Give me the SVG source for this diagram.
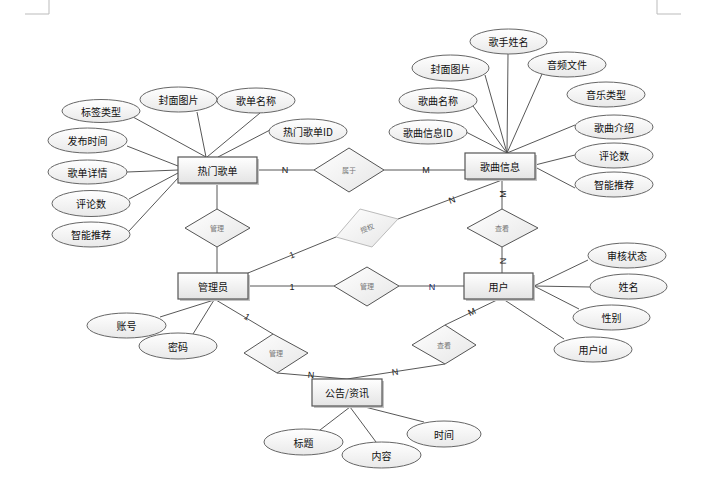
<svg xmlns="http://www.w3.org/2000/svg" width="708" height="492" viewBox="0 0 708 492">
<defs>
<linearGradient id="gr" x1="0" y1="0" x2="0" y2="1"><stop offset="0" stop-color="#ffffff"/><stop offset="1" stop-color="#e4e4e4"/></linearGradient>
<linearGradient id="ge" x1="0" y1="0" x2="0" y2="1"><stop offset="0" stop-color="#ffffff"/><stop offset="1" stop-color="#e9e9e9"/></linearGradient>
<linearGradient id="gd" x1="0" y1="0" x2="1" y2="1"><stop offset="0" stop-color="#ffffff"/><stop offset="1" stop-color="#e6e6e6"/></linearGradient>
<style>
.ent{fill:url(#gr);stroke:#555;stroke-width:1.2}
.sh{fill:#c4c4c4}
.att{fill:url(#ge);stroke:#666;stroke-width:1}
.rel{fill:url(#gd);stroke:#555;stroke-width:1}
.relg{fill:url(#gd);stroke:#bbb;stroke-width:1}
.t{font-family:"Noto Sans CJK SC","Liberation Sans",sans-serif;font-size:10px;fill:#111;text-anchor:middle;dominant-baseline:central}
.rt{font-family:"Noto Sans CJK SC","Liberation Sans",sans-serif;font-size:7px;fill:#777;text-anchor:middle;dominant-baseline:central}
.c{font-family:"Liberation Sans",sans-serif;font-size:9px;fill:#222;text-anchor:middle;dominant-baseline:central}
.cb{font-family:"Liberation Sans",sans-serif;font-size:9px;fill:#1a2a6a;text-anchor:middle;dominant-baseline:central}
.ln{stroke:#444;stroke-width:0.9;fill:none}
.mk{stroke:#bbb;stroke-width:1;fill:none}
</style>
</defs>
<rect width="708" height="492" fill="#fff"/>
<g id="corners">
<path class="mk" d="M49,0 V14 H25"/>
<path class="mk" d="M657,0 V14 H681"/>
</g>
<g id="connectors">
<line class="ln" x1="133" y1="117" x2="206" y2="157"/>
<line class="ln" x1="197" y1="112" x2="206" y2="157"/>
<line class="ln" x1="260" y1="113" x2="207" y2="157"/>
<line class="ln" x1="270" y1="130" x2="218" y2="157"/>
<line class="ln" x1="127" y1="146" x2="178" y2="166"/>
<line class="ln" x1="127" y1="172" x2="178" y2="170"/>
<line class="ln" x1="129" y1="199" x2="178" y2="173"/>
<line class="ln" x1="129" y1="231" x2="178" y2="178"/>
<line class="ln" x1="257" y1="170" x2="314" y2="170"/>
<line class="ln" x1="384" y1="170" x2="465" y2="170"/>
<line class="ln" x1="508" y1="54" x2="507" y2="153"/>
<line class="ln" x1="485" y1="75" x2="507" y2="153"/>
<line class="ln" x1="542" y1="74" x2="507" y2="153"/>
<line class="ln" x1="473" y1="106" x2="507" y2="153"/>
<line class="ln" x1="466" y1="132" x2="507" y2="153"/>
<line class="ln" x1="575" y1="125" x2="507" y2="153"/>
<line class="ln" x1="575" y1="155" x2="535" y2="165"/>
<line class="ln" x1="575" y1="188" x2="535" y2="167"/>
<line class="ln" x1="502" y1="179" x2="502" y2="209"/>
<line class="ln" x1="502" y1="247" x2="502" y2="273"/>
<line class="ln" x1="534" y1="286" x2="588" y2="260"/>
<line class="ln" x1="534" y1="286" x2="590" y2="287"/>
<line class="ln" x1="534" y1="286" x2="579" y2="309"/>
<line class="ln" x1="503" y1="299" x2="564" y2="339"/>
<line class="ln" x1="248" y1="286" x2="334" y2="286"/>
<line class="ln" x1="399" y1="286" x2="464" y2="286"/>
<line class="ln" x1="217" y1="183" x2="217" y2="209"/>
<line class="ln" x1="217" y1="247" x2="217" y2="273"/>
<line class="ln" x1="214" y1="300" x2="160" y2="317"/>
<line class="ln" x1="214" y1="300" x2="193" y2="334"/>
<line class="ln" x1="248" y1="273" x2="336" y2="237"/>
<line class="ln" x1="398" y1="219" x2="502" y2="180"/>
<line class="ln" x1="216" y1="300" x2="273" y2="334"/>
<line class="ln" x1="277" y1="373" x2="347" y2="379"/>
<line class="ln" x1="499" y1="299" x2="445" y2="325"/>
<line class="ln" x1="445" y1="364" x2="347" y2="379"/>
<line class="ln" x1="350" y1="407" x2="320" y2="430"/>
<line class="ln" x1="350" y1="407" x2="376" y2="442"/>
<line class="ln" x1="361" y1="406" x2="424" y2="422"/>
<text class="c" x="285" y="170">N</text>
<text class="c" x="426" y="170">M</text>
<text class="c" transform="translate(503,194) rotate(-90)">M</text>
<text class="c" transform="translate(503,261) rotate(-90)">N</text>
<text class="c" x="292" y="287">1</text>
<text class="cb" x="432" y="287">N</text>
<text class="c" transform="translate(292,255) rotate(-22)">1</text>
<text class="c" transform="translate(452,200) rotate(-20)">N</text>
<text class="c" transform="translate(247,317) rotate(30)">1</text>
<text class="c" transform="translate(311,375) rotate(5)">N</text>
<text class="c" transform="translate(472,312) rotate(-25)">M</text>
<text class="c" transform="translate(395,372) rotate(-8)">N</text>
</g>
<g id="e-hot">
<rect class="sh" x="180" y="159" width="79" height="26"/>
<rect class="ent" x="178" y="157" width="79" height="26"/>
<text class="t" x="217.5" y="170">热门歌单</text>
</g>
<g id="e-song">
<rect class="sh" x="467" y="155" width="70" height="26"/>
<rect class="ent" x="465" y="153" width="70" height="26"/>
<text class="t" x="500" y="166">歌曲信息</text>
</g>
<g id="e-admin">
<rect class="sh" x="180" y="275" width="70" height="26"/>
<rect class="ent" x="178" y="273" width="70" height="26"/>
<text class="t" x="213" y="286">管理员</text>
</g>
<g id="e-user">
<rect class="sh" x="466" y="275" width="69" height="26"/>
<rect class="ent" x="464" y="273" width="69" height="26"/>
<text class="t" x="498.5" y="286">用户</text>
</g>
<g id="e-notice">
<rect class="sh" x="314" y="381" width="70" height="27"/>
<rect class="ent" x="312" y="379" width="70" height="27"/>
<text class="t" x="347" y="392.5">公告/资讯</text>
</g>
<g id="a-hot-tag"><ellipse class="att" cx="101" cy="111" rx="39" ry="11.5"/><text class="t" x="101" y="111">标签类型</text></g>
<g id="a-hot-cover"><ellipse class="att" cx="178.5" cy="99.5" rx="38.5" ry="12.5"/><text class="t" x="178.5" y="99.5">封面图片</text></g>
<g id="a-hot-name"><ellipse class="att" cx="256" cy="100.5" rx="39" ry="12.5"/><text class="t" x="256" y="100.5">歌单名称</text></g>
<g id="a-hot-id"><ellipse class="att" cx="308" cy="131.5" rx="39" ry="12.5"/><text class="t" x="308" y="131.5">热门歌单ID</text></g>
<g id="a-hot-time"><ellipse class="att" cx="87.5" cy="140.5" rx="39.5" ry="12.5"/><text class="t" x="87.5" y="140.5">发布时间</text></g>
<g id="a-hot-detail"><ellipse class="att" cx="87.5" cy="172" rx="39.5" ry="12"/><text class="t" x="87.5" y="172">歌单详情</text></g>
<g id="a-hot-comments"><ellipse class="att" cx="91" cy="203.5" rx="39" ry="13"/><text class="t" x="91" y="203.5">评论数</text></g>
<g id="a-hot-rec"><ellipse class="att" cx="91" cy="234.5" rx="39" ry="12.5"/><text class="t" x="91" y="234.5">智能推荐</text></g>
<g id="a-song-singer"><ellipse class="att" cx="508.5" cy="41.5" rx="38.5" ry="12.5"/><text class="t" x="508.5" y="41.5">歌手姓名</text></g>
<g id="a-song-cover"><ellipse class="att" cx="450.5" cy="68" rx="38.5" ry="13"/><text class="t" x="450.5" y="68">封面图片</text></g>
<g id="a-song-audio"><ellipse class="att" cx="567" cy="64.5" rx="39" ry="12.5"/><text class="t" x="567" y="64.5">音频文件</text></g>
<g id="a-song-type"><ellipse class="att" cx="606" cy="94.5" rx="39" ry="12.5"/><text class="t" x="606" y="94.5">音乐类型</text></g>
<g id="a-song-name"><ellipse class="att" cx="438" cy="100.5" rx="39" ry="12.5"/><text class="t" x="438" y="100.5">歌曲名称</text></g>
<g id="a-song-id"><ellipse class="att" cx="428" cy="132" rx="39" ry="12"/><text class="t" x="428" y="132">歌曲信息ID</text></g>
<g id="a-song-intro"><ellipse class="att" cx="614" cy="127" rx="39" ry="12"/><text class="t" x="614" y="127">歌曲介绍</text></g>
<g id="a-song-comments"><ellipse class="att" cx="614" cy="155.5" rx="39" ry="12.5"/><text class="t" x="614" y="155.5">评论数</text></g>
<g id="a-song-rec"><ellipse class="att" cx="614" cy="184.5" rx="39" ry="12.5"/><text class="t" x="614" y="184.5">智能推荐</text></g>
<g id="a-user-status"><ellipse class="att" cx="627" cy="255.5" rx="39" ry="12.5"/><text class="t" x="627" y="255.5">审核状态</text></g>
<g id="a-user-name"><ellipse class="att" cx="628.5" cy="286.5" rx="38.5" ry="12.5"/><text class="t" x="628.5" y="286.5">姓名</text></g>
<g id="a-user-sex"><ellipse class="att" cx="611.5" cy="317.5" rx="38.5" ry="12.5"/><text class="t" x="611.5" y="317.5">性别</text></g>
<g id="a-user-id"><ellipse class="att" cx="593" cy="349.5" rx="39" ry="12.5"/><text class="t" x="593" y="349.5">用户id</text></g>
<g id="a-admin-acc"><ellipse class="att" cx="126.5" cy="325.5" rx="39.5" ry="12.5"/><text class="t" x="126.5" y="325.5">账号</text></g>
<g id="a-admin-pwd"><ellipse class="att" cx="178" cy="346" rx="39" ry="13"/><text class="t" x="178" y="346">密码</text></g>
<g id="a-notice-title"><ellipse class="att" cx="303.5" cy="442" rx="39.5" ry="13"/><text class="t" x="303.5" y="442">标题</text></g>
<g id="a-notice-content"><ellipse class="att" cx="381.5" cy="455" rx="39.5" ry="13"/><text class="t" x="381.5" y="455">内容</text></g>
<g id="a-notice-time"><ellipse class="att" cx="444" cy="434" rx="37" ry="13"/><text class="t" x="444" y="434">时间</text></g>
<g id="r-belong"><polygon class="rel" points="314,170 349,148 384,170 349,192"/><text class="rt" x="349" y="170">属于</text></g>
<g id="r-manage-hot"><polygon class="rel" points="185,228 217,209 250,228 217,247"/><text class="rt" x="217" y="228">管理</text></g>
<g id="r-auth"><polygon class="relg" points="336,237 360,209 398,219 372,247"/><text class="rt" transform="translate(367,228) rotate(-20)">授权</text></g>
<g id="r-view-song"><polygon class="rel" points="467,228 502,209 538,228 502,247"/><text class="rt" x="502" y="228">查看</text></g>
<g id="r-manage-user"><polygon class="rel" points="334,286 367,267 399,286 367,306"/><text class="rt" x="367" y="286">管理</text></g>
<g id="r-manage-notice"><polygon class="rel" points="244,353 273,334 308,353 277,373"/><text class="rt" x="276" y="353">管理</text></g>
<g id="r-view-notice"><polygon class="rel" points="412,345 445,325 476,345 445,364"/><text class="rt" x="444" y="345">查看</text></g>
</svg>
